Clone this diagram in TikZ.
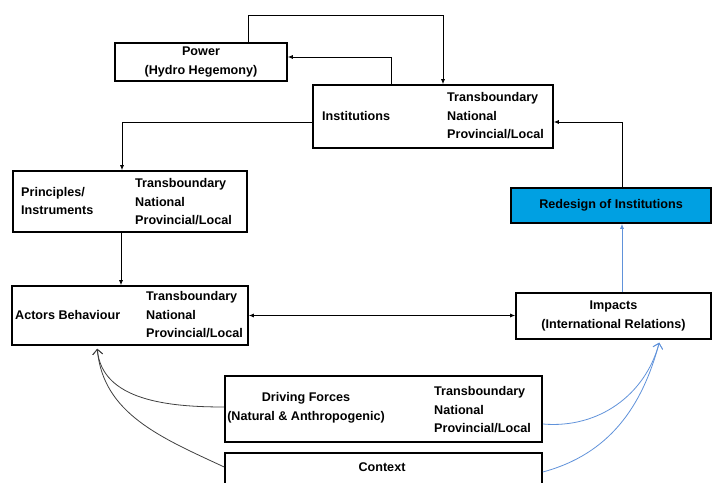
\documentclass[tikz,border=0pt]{standalone}
\usepackage{fontspec}
\setmainfont{Liberation Sans}
\usetikzlibrary{arrows.meta}
\definecolor{redesignblue}{RGB}{0,160,226}
\definecolor{linkblue}{RGB}{96,146,218}
\begin{document}
\begin{tikzpicture}[x=1pt, y=1pt,
    font=\fontsize{12.6}{18.5}\selectfont\bfseries,
    >={Latex[length=5pt,width=4pt]},
    box/.style={draw, line width=1.6pt, inner sep=0pt, align=center},
    levels/.style={inner sep=0pt, align=left, anchor=west},
    arr/.style={->, line width=0.8pt},
    curvearr/.style={-{Straight Barb[length=5pt,width=10pt]}, line width=0.8pt, shorten >=3pt}]
  \useasboundingbox (0,0) rectangle (712,482);

  \node[box, minimum width=172pt, minimum height=38pt] (power) at (201,420) {Power\\(Hydro Hegemony)};

  \node[box, minimum width=240pt, minimum height=63pt] (inst) at (433,365.5) {};
  \node[levels] (instname) at (322,366) {Institutions};
  \node[levels] (instlevels) at (447,366) {Transboundary\\National\\Provincial/Local};

  \node[box, minimum width=234pt, minimum height=61pt] (princ) at (130,280.5) {};
  \node[levels] (princname) at (21,281) {Principles/\\Instruments};
  \node[levels] (princlevels) at (135,280) {Transboundary\\National\\Provincial/Local};

  \node[box, minimum width=236pt, minimum height=59pt] (actors) at (130,166.5) {};
  \node[levels] (actorsname) at (15,167) {Actors Behaviour};
  \node[levels] (actorslevels) at (146,167) {Transboundary\\National\\Provincial/Local};

  \node[box, minimum width=195pt, minimum height=46pt] (impacts) at (613.5,166) {Impacts\\(International Relations)};
  \node[box, fill=redesignblue, minimum width=200pt, minimum height=35pt] (redesign) at (611,276.5) {Redesign of Institutions};

  \node[box, minimum width=317pt, minimum height=66pt] (driving) at (383.5,73) {};
  \node[inner sep=0pt, align=center] (drivingname) at (306,74) {Driving Forces\\(Natural \& Anthropogenic)};
  \node[levels] (drivinglevels) at (434,72) {Transboundary\\National\\Provincial/Local};

  \node[box, minimum width=317pt, minimum height=40pt] (context) at (383.5,9) {};
  \node[inner sep=0pt] (contextname) at (382,15) {Context};

  \draw[arr] ([xshift=47pt]power.north) -- ++(0,27) -| ([xshift=10pt]inst.north);
  \draw[arr] ([xshift=-42pt]inst.north) |- ([yshift=5pt]power.east);
  \draw[arr] ([yshift=-5.5pt]inst.west) -| ([xshift=-8pt]princ.north);
  \draw[arr] ([xshift=-9pt]princ.south) -- ([xshift=-9pt]actors.north);
  \draw[<->, line width=0.8pt] (actors.east) -- (actors.east -| impacts.west);
  \draw[arr, linkblue] ([xshift=8.5pt]impacts.north) -- ([xshift=11pt]redesign.south);
  \draw[arr] ([xshift=11pt]redesign.north) |- ([yshift=-5.5pt]inst.east);

  \draw[curvearr, black!75] ([yshift=2pt]driving.west) to[out=180, in=-85] ([xshift=-33pt]actors.south);
  \draw[curvearr, black!75] ([yshift=6pt]context.west) to[out=155, in=-85] ([xshift=-33pt]actors.south);
  \draw[curvearr, linkblue] ([yshift=-15pt]driving.east) to[out=-5, in=-105] ([xshift=46.5pt]impacts.south);
  \draw[curvearr, linkblue] ([yshift=1pt]context.east) to[out=15, in=-105] ([xshift=46.5pt]impacts.south);
\end{tikzpicture}
\end{document}
